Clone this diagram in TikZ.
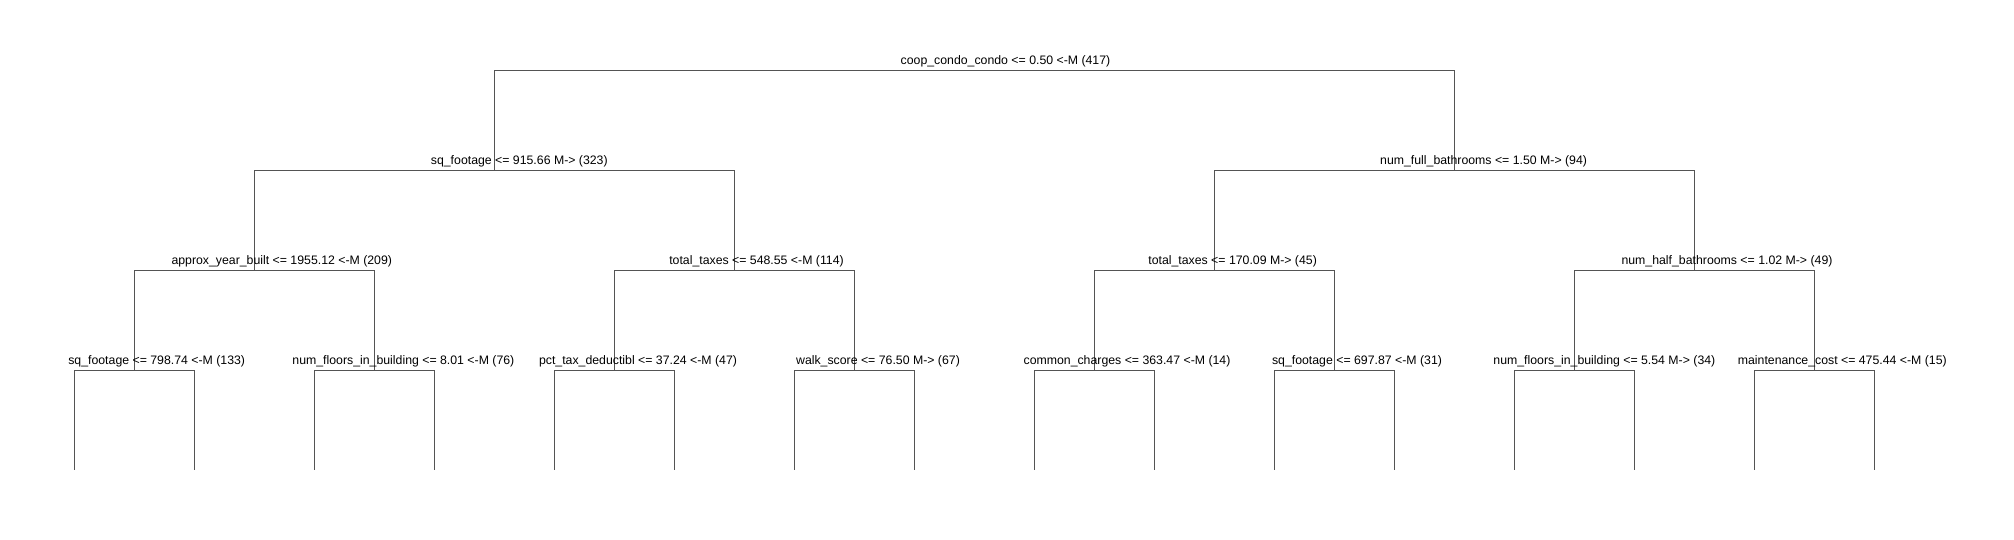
\documentclass[tikz,border=0pt]{standalone}
\usepackage{fontspec}
\setmainfont{Liberation Sans}
\begin{document}
\begin{tikzpicture}[x=1pt,y=-1pt,
  edge/.style={draw=black!67,line width=1pt},
  lab/.style={anchor=base,inner sep=0pt,font=\fontsize{12.3}{14}\selectfont,text=black}]
\useasboundingbox[fill=white] (0,0) rectangle (2014,540);
% split points
\coordinate (r) at (974.3,70.7);
\coordinate (a) at (494.3,170.7);
\coordinate (b) at (1454.3,170.7);
\coordinate (aa) at (254.3,270.7);
\coordinate (ab) at (734.3,270.7);
\coordinate (ba) at (1214.3,270.7);
\coordinate (bb) at (1694.3,270.7);
\coordinate (aaa) at (134.3,370.7);
\coordinate (aab) at (374.3,370.7);
\coordinate (aba) at (614.3,370.7);
\coordinate (abb) at (854.3,370.7);
\coordinate (baa) at (1094.3,370.7);
\coordinate (bab) at (1334.3,370.7);
\coordinate (bba) at (1574.3,370.7);
\coordinate (bbb) at (1814.3,370.7);
\foreach \i in {0,...,15}{\coordinate (lf\i) at ({74.3+120*\i},470);}
% connectors
\draw[edge] (r) -| (a); \draw[edge] (r) -| (b);
\draw[edge] (a) -| (aa); \draw[edge] (a) -| (ab);
\draw[edge] (b) -| (ba); \draw[edge] (b) -| (bb);
\draw[edge] (aa) -| (aaa); \draw[edge] (aa) -| (aab);
\draw[edge] (ab) -| (aba); \draw[edge] (ab) -| (abb);
\draw[edge] (ba) -| (baa); \draw[edge] (ba) -| (bab);
\draw[edge] (bb) -| (bba); \draw[edge] (bb) -| (bbb);
\draw[edge] (aaa) -| (lf0); \draw[edge] (aaa) -| (lf1);
\draw[edge] (aab) -| (lf2); \draw[edge] (aab) -| (lf3);
\draw[edge] (aba) -| (lf4); \draw[edge] (aba) -| (lf5);
\draw[edge] (abb) -| (lf6); \draw[edge] (abb) -| (lf7);
\draw[edge] (baa) -| (lf8); \draw[edge] (baa) -| (lf9);
\draw[edge] (bab) -| (lf10); \draw[edge] (bab) -| (lf11);
\draw[edge] (bba) -| (lf12); \draw[edge] (bba) -| (lf13);
\draw[edge] (bbb) -| (lf14); \draw[edge] (bbb) -| (lf15);
% labels
\node[lab] (lr) at (1005.5,64.7) {coop\_condo\_condo <= 0.50 <-M (417)};
\node[lab] (la) at (519.3,164.7) {sq\_footage <= 915.66 M-> (323)};
\node[lab] (lb) at (1483.6,164.7) {num\_full\_bathrooms <= 1.50 M-> (94)};
\node[lab] (laa) at (281.8,264.7) {approx\_year\_built <= 1955.12 <-M (209)};
\node[lab] (lab) at (756.5,264.7) {total\_taxes <= 548.55 <-M (114)};
\node[lab] (lba) at (1232.6,264.7) {total\_taxes <= 170.09 M-> (45)};
\node[lab] (lbb) at (1727,264.7) {num\_half\_bathrooms <= 1.02 M-> (49)};
\node[lab] (laaa) at (156.7,364.7) {sq\_footage <= 798.74 <-M (133)};
\node[lab] (laab) at (403.4,364.7) {num\_floors\_in\_building <= 8.01 <-M (76)};
\node[lab] (laba) at (638,364.7) {pct\_tax\_deductibl <= 37.24 <-M (47)};
\node[lab] (labb) at (878,364.7) {walk\_score <= 76.50 M-> (67)};
\node[lab] (lbaa) at (1127,364.7) {common\_charges <= 363.47 <-M (14)};
\node[lab] (lbab) at (1357,364.7) {sq\_footage <= 697.87 <-M (31)};
\node[lab] (lbba) at (1604.4,364.7) {num\_floors\_in\_building <= 5.54 M-> (34)};
\node[lab] (lbbb) at (1842.3,364.7) {maintenance\_cost <= 475.44 <-M (15)};
\end{tikzpicture}
\end{document}
